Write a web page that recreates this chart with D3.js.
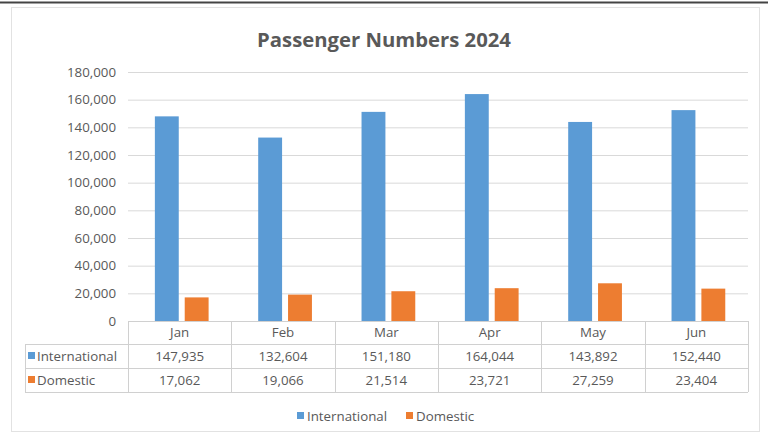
<!DOCTYPE html>
<html><head><meta charset="utf-8">
<script src="https://cdn.jsdelivr.net/npm/d3@7"></script>
<style>
html,body{margin:0;padding:0;background:#fff;}
svg{display:block;font-family:"Open Sans",Lato,sans-serif;}
</style></head>
<body><svg id="c" width="768" height="439"></svg>
<script>
const months = ["Jan","Feb","Mar","Apr","May","Jun"];
const seriesNames = ["International","Domestic"];
const international = [147935,132604,151180,164044,143892,152440];
const domestic = [17062,19066,21514,23721,27259,23404];
const yTicks = [0,20000,40000,60000,80000,100000,120000,140000,160000,180000];
const colors = ["#5B9BD5","#ED7D31"];
const values = [international, domestic];

(function(){
const svg = d3.select("#c");
const FS = 13.3;
// frame
svg.append("line").attr("x1",0).attr("x2",768).attr("y1",2.5).attr("y2",2.5).attr("stroke","#444").attr("stroke-width",2);
svg.append("rect").attr("x",11.5).attr("y",7.5).attr("width",748).attr("height",424).attr("fill","none").attr("stroke","#e2e2e2");

const pL=128, pR=748, pT=72, pB=321;
const x0 = d3.scaleBand().domain(months).range([pL,pR]).paddingInner(0).paddingOuter(0);
const bw = x0.bandwidth();
const x1 = d3.scaleBand().domain(seriesNames).range([bw*0.26, bw*0.78]).paddingInner(0.2);
const y = d3.scaleLinear().domain([0,180000]).range([pB,pT]);

svg.append("text").attr("x",384).attr("y",47).attr("text-anchor","middle")
  .attr("font-size",20.3).attr("font-weight","bold").attr("fill","#595959").text("Passenger Numbers 2024");

// gridlines
const yAxis = d3.axisLeft(y).tickValues(yTicks).tickSize(-(pR-pL)).tickPadding(12).tickFormat(d3.format(","));
const ga = svg.append("g").attr("transform",`translate(${pL},0)`).call(yAxis);
ga.select(".domain").remove();
ga.selectAll(".tick line").attr("stroke","#d9d9d9");
ga.selectAll(".tick text").attr("fill","#595959").attr("font-size",FS).attr("font-family","'Open Sans',sans-serif");

// bars
seriesNames.forEach((s,si)=>{
  svg.append("g").selectAll("rect").data(months).join("rect")
    .attr("x",(m)=>x0(m)+x1(s)).attr("width",x1.bandwidth())
    .attr("y",(m,i)=>y(values[si][i])).attr("height",(m,i)=>pB-y(values[si][i]))
    .attr("fill",colors[si]);
});

// data table
const rowY = [321,344,368,392];
const tableLeft = 25;
const tg = svg.append("g").attr("stroke","#d0d0d0").attr("stroke-width",1);
tg.append("line").attr("x1",pL).attr("x2",pR).attr("y1",rowY[0]+0.5).attr("y2",rowY[0]+0.5);
[1,2,3].forEach(r=>tg.append("line").attr("x1",tableLeft).attr("x2",pR).attr("y1",rowY[r]+0.5).attr("y2",rowY[r]+0.5));
months.forEach(m=>tg.append("line").attr("x1",Math.round(x0(m))+0.5).attr("x2",Math.round(x0(m))+0.5).attr("y1",rowY[0]).attr("y2",rowY[3]));
tg.append("line").attr("x1",pR+0.5).attr("x2",pR+0.5).attr("y1",rowY[0]).attr("y2",rowY[3]);
tg.append("line").attr("x1",tableLeft+0.5).attr("x2",tableLeft+0.5).attr("y1",rowY[1]).attr("y2",rowY[3]);

const fmt = d3.format(",");
svg.append("g").selectAll("text").data(months).join("text")
  .attr("x",m=>x0(m)+bw/2).attr("y",(rowY[0]+rowY[1])/2+4.5).attr("text-anchor","middle")
  .attr("font-size",FS).attr("fill","#595959").text(m=>m);
seriesNames.forEach((s,si)=>{
  const cy = (rowY[si+1]+rowY[si+2])/2;
  svg.append("rect").attr("x",tableLeft+3).attr("y",cy-4).attr("width",7).attr("height",7).attr("fill",colors[si]);
  svg.append("text").attr("x",tableLeft+12).attr("y",cy+4.5).attr("font-size",FS).attr("fill","#595959").text(s);
  svg.append("g").selectAll("text").data(months).join("text")
    .attr("x",m=>x0(m)+bw/2).attr("y",cy+4.5).attr("text-anchor","middle")
    .attr("font-size",FS).attr("fill","#595959").text((m,i)=>fmt(values[si][i]));
});

// legend
const legX = [297,406];
seriesNames.forEach((s,si)=>{
  svg.append("rect").attr("x",legX[si]).attr("y",412).attr("width",7).attr("height",7).attr("fill",colors[si]);
  svg.append("text").attr("x",legX[si]+10).attr("y",420.5).attr("font-size",FS).attr("fill","#595959").text(s);
});
})();
</script></body></html>
